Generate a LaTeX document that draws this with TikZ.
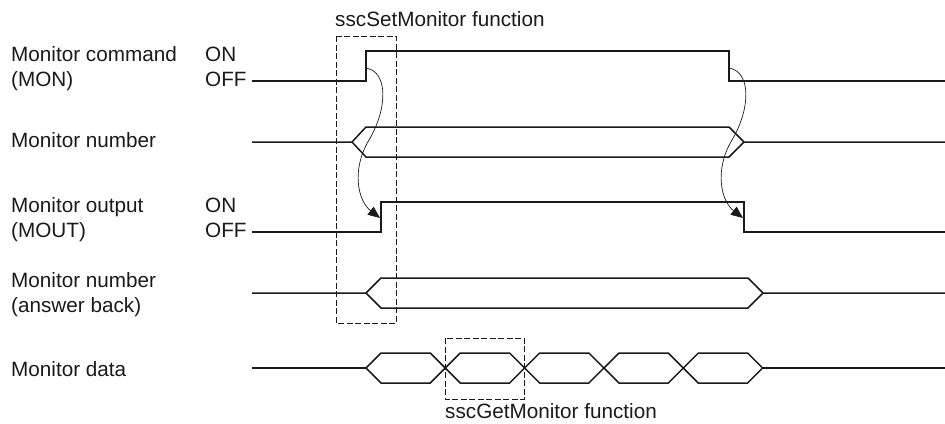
\documentclass[tikz,border=0pt]{standalone}
\usepackage{fontspec}
\setmainfont{Liberation Sans}
\usepackage{tikz}
\usepackage{xcolor}
\usetikzlibrary{arrows.meta,calc}
\definecolor{ink}{HTML}{1A1A1A}

\tikzset{
  sig/.style={draw=ink,line width=1.5pt,line join=miter},
  cause/.style={draw=ink,line width=0.7pt,-{Triangle[length=12pt,width=10pt]}},
  fnbox/.style={draw=ink,line width=0.9pt,dash pattern=on 6pt off 2.5pt},
  lbl/.style={anchor=base west,inner sep=0pt,align=left,text=ink,
              font=\fontsize{20.7}{25}\selectfont}
}

\begin{document}
\begin{tikzpicture}[x=1pt,y=-1pt]
  \useasboundingbox (0,0) rectangle (945,423);

  % signal names (two-line labels sit on their last baseline)
  \node[lbl] (mon-lbl)  at (11,86)  {Monitor command\\(MON)};
  \node[lbl] (num-lbl)  at (11,147) {Monitor number};
  \node[lbl] (mout-lbl) at (11,237) {Monitor output\\(MOUT)};
  \node[lbl] (ans-lbl)  at (11,312) {Monitor number\\(answer back)};
  \node[lbl] (dat-lbl)  at (11,376) {Monitor data};
  \node[lbl] (mon-on)   at (205,61)  {ON};
  \node[lbl] (mon-off)  at (205,86)  {OFF};
  \node[lbl] (mout-on)  at (205,212) {ON};
  \node[lbl] (mout-off) at (205,237) {OFF};

  % key points
  \coordinate (mon-rise)  at (366,68);
  \coordinate (mon-fall)  at (729,68);
  \coordinate (mout-rise) at (380,218);
  \coordinate (mout-fall) at (743,218);

  % waveforms
  \draw[sig] (252,81) -- (366,81) -- (366,51) -- (729,51) -- (729,81) -- (945,81);
  \draw[sig] (252,142) -- (352,142) -- (366,127) -- (729,127) -- (744,142) -- (945,142);
  \draw[sig] (352,142) -- (366,157) -- (729,157) -- (744,142);
  \draw[sig] (252,232) -- (381,232) -- (381,202) -- (744,202) -- (744,232) -- (945,232);
  \draw[sig] (252,293) -- (366,293) -- (381,278) -- (748,278) -- (763,293) -- (945,293);
  \draw[sig] (366,293) -- (381,308) -- (748,308) -- (763,293);
  \draw[sig] (252,368) -- (366,368);
  \foreach \a in {366,445.3,524.6,604,683.3}
    \draw[sig] (\a,368) -- (\a+15,353) -- (\a+64.3,353) -- (\a+79.3,368)
               -- (\a+64.3,383) -- (\a+15,383) -- cycle;
  \draw[sig] (762.6,368) -- (945,368);

  % function windows
  \draw[fnbox] (336,36) rectangle (396,323);
  \draw[fnbox] (445,338) rectangle (524,399);
  \node[lbl] (set-lbl) at (335,26)  {sscSetMonitor function};
  \node[lbl] (get-lbl) at (445,418) {sscGetMonitor function};

  % cause and effect
  \draw[cause] (mon-rise) .. controls +(23,4) and +(18,-30) .. ++(3,72)
               .. controls +(-18,30) and +(-22,-17) .. (mout-rise);
  \draw[cause] (mon-fall) .. controls +(23,4) and +(18,-30) .. ++(3,72)
               .. controls +(-18,30) and +(-22,-17) .. (mout-fall);
\end{tikzpicture}
\end{document}
